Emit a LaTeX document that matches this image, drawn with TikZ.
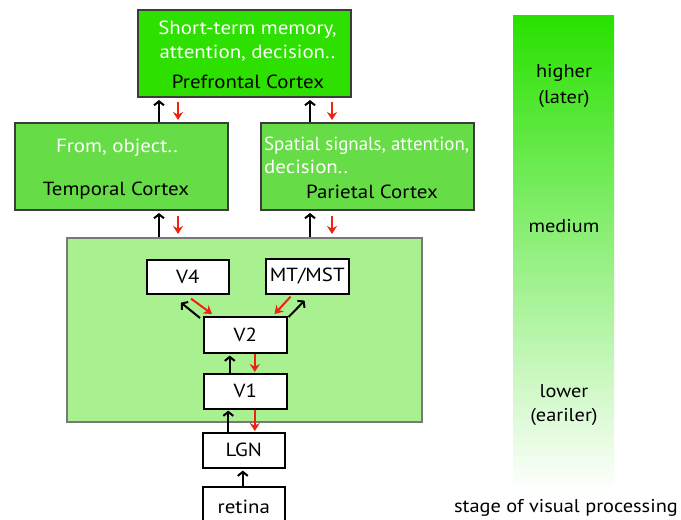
\documentclass[tikz,border=0pt]{standalone}
\usepackage{fontspec}
\setmainfont{PT Sans}[FakeStretch=1.1]
\usetikzlibrary{arrows.meta,calc}
\definecolor{pfcgreen}{RGB}{46,224,0}
\definecolor{midgreen}{RGB}{102,220,70}
\definecolor{lightgreen}{RGB}{168,240,144}
\definecolor{redarr}{RGB}{235,35,15}
\definecolor{boxedge}{RGB}{60,60,60}
\definecolor{bigedge}{RGB}{120,120,120}
\definecolor{bartop}{RGB}{40,225,0}
\definecolor{barmid}{RGB}{115,230,85}
\begin{document}
\begin{tikzpicture}[x=1pt,y=-1pt,
  area/.style={draw=boxedge,line width=2pt,inner sep=0pt,anchor=north west},
  wbox/.style={draw=black,line width=1.6pt,fill=white,inner sep=0pt,anchor=north west,font=\fontsize{19}{21}\selectfont},
  wtxt/.style={text=white,font=\fontsize{19}{21}\selectfont,inner sep=0pt,anchor=base},
  btxt/.style={text=black,font=\fontsize{19}{21}\selectfont,inner sep=0pt,anchor=base},
  lbl/.style={text=black,font=\fontsize{18.5}{21.5}\selectfont,inner sep=0pt,anchor=base},
  up/.style={draw=black,line width=2pt,-{Straight Barb[length=4pt,width=10pt,line width=2pt]}},
  dn/.style={draw=redarr,line width=2pt,-{Stealth[length=8pt,width=10pt]}}]
\useasboundingbox (0,0) rectangle (681,520);
\fill[white] (0,0) rectangle (681,520);

% gradient bar
\shade[top color=bartop,middle color=barmid,bottom color=white] (513,15) rectangle (614,492);
\node[lbl] (hi1) at (564,77) {higher};
\node[lbl] (hi2) at (564,103) {(later)};
\node[lbl] (med) at (564,232) {medium};
\node[lbl] (lo1) at (564,397) {lower};
\node[lbl] (lo2) at (564,421) {(eariler)};
\node[lbl] (stage) at (566,512) {stage of visual processing};

% cortex boxes
\node[area,fill=pfcgreen,minimum width=213,minimum height=87] (pfc) at (137,9) {};
\node[wtxt] (pfc1) at (247.5,34.5) {Short-term memory,};
\node[wtxt] (pfc2) at (247.5,58) {attention, decision..};
\node[btxt] (pfc3) at (248,88.5) {Prefrontal Cortex};

\node[area,fill=midgreen,minimum width=213,minimum height=87] (tmp) at (14,122) {};
\node[wtxt] (tmp1) at (117,152.5) {From, object..};
\node[btxt] (tmp2) at (116,195.5) {Temporal Cortex};

\node[area,fill=midgreen,minimum width=213,minimum height=87] (par) at (260,122) {};
\node[wtxt,anchor=base west] (par1) at (264,150) {\resizebox{205pt}{\height}{Spatial signals, attention,}};
\node[wtxt,anchor=base west] (par2) at (264,173) {decision..};
\node[btxt] (par3) at (372,198.5) {Parietal Cortex};

% early visual area
\node[draw=bigedge,line width=2pt,fill=lightgreen,inner sep=0pt,anchor=north west,minimum width=355,minimum height=184] (early) at (66,237) {};

\node[wbox,minimum width=82,minimum height=34] (v4) at (146,259) {V4};
\node[wbox,minimum width=83,minimum height=35] (mt) at (265,258) {MT/MST};
\node[wbox,minimum width=83,minimum height=36] (v2) at (203,316) {V2};
\node[wbox,minimum width=83,minimum height=35] (v1) at (203,373) {V1};
\node[wbox,minimum width=82,minimum height=35] (lgn) at (202,432) {LGN};
\node[wbox,minimum width=82,minimum height=40] (ret) at (202,486) {retina};

% arrows between cortex levels
\draw[up,shorten >=2pt] ([xshift=37.5]tmp.north) -- ([xshift=37.5]tmp.north |- pfc.south);
\draw[dn,shorten <=4pt,shorten >=2pt] ([xshift=-66.5]pfc.south) -- ([xshift=-66.5]pfc.south |- tmp.north);
\draw[up,shorten >=2pt] ([xshift=-57.5]par.north) -- ([xshift=-57.5]par.north |- pfc.south);
\draw[dn,shorten <=4pt,shorten >=2pt] ([xshift=87.5]pfc.south) -- ([xshift=87.5]pfc.south |- par.north);

\draw[up,shorten >=2pt] ([xshift=-85.5]early.north) -- ([xshift=-85.5]early.north |- tmp.south);
\draw[dn,shorten <=5pt,shorten >=3pt] ([xshift=56.5]tmp.south) -- ([xshift=56.5]tmp.south |- early.north);
\draw[up,shorten >=2pt] ([xshift=65.5]early.north) -- ([xshift=65.5]early.north |- par.south);
\draw[dn,shorten <=5pt,shorten >=3pt] ([xshift=-35.5]par.south) -- ([xshift=-35.5]par.south |- early.north);

% inside early area
\draw[up] ([shift={(-3,2)}]v2.north west) -- ([shift={(35,8)}]v4.south west);
\draw[dn] ([shift={(45,4)}]v4.south west) -- ([shift={(9,-2)}]v2.north west);
\draw[dn] ([shift={(-59,2)}]mt.south east) -- ([shift={(-13,-2)}]v2.north east);
\draw[up] ([shift={(1,1)}]v2.north east) -- ([shift={(-45,6)}]mt.south east);

\draw[up,shorten >=2pt] ([xshift=-15.5]v1.north) -- ([xshift=-15.5]v1.north |- v2.south);
\draw[dn,shorten >=1pt] ([xshift=9.5]v2.south) -- ([xshift=9.5]v2.south |- v1.north);
\draw[up,shorten >=1pt] ([xshift=-15.5]lgn.north) -- ([xshift=-15.5]lgn.north |- v1.south);
\draw[dn,shorten >=1pt] ([xshift=9.5]v1.south) -- ([xshift=9.5]v1.south |- lgn.north);
\draw[up,shorten >=2pt] ([xshift=-1]ret.north) -- ([xshift=-1]ret.north |- lgn.south);
\end{tikzpicture}
\end{document}
